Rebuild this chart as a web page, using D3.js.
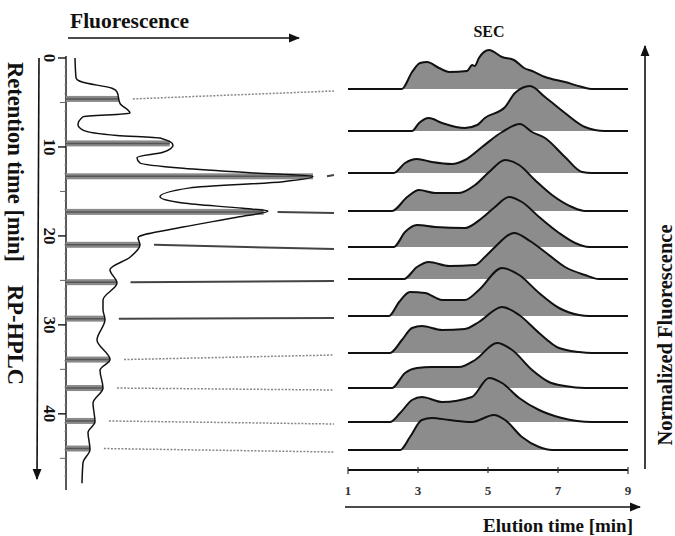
<!DOCTYPE html>
<html>
<head>
<meta charset="utf-8">
<script src="https://cdn.jsdelivr.net/npm/d3@7"></script>
<style>
  body { margin: 0; background: #fff; }
  text { font-family: "Liberation Serif", "DejaVu Serif", serif; font-weight: bold; fill: #111; }
</style>
</head>
<body>
<svg id="chart"></svg>
<script>
// RP-HPLC trace: retention time [min] vs fluorescence (a.u.)
const hplcTime = [0, 2.2, 2.7, 3.4, 3.8, 5.1, 6.2, 6.6, 7.5, 8.1, 8.7, 9.0, 9.8, 10.6, 11.2, 11.8, 12.4, 12.9, 13.3, 13.9,
  14.6, 15.6, 16.3, 16.9, 17.2, 17.9, 19.0, 20.2, 21.0, 22.4, 23.8, 25.3, 27.2, 28.3, 29.4, 31.7, 33.9, 35.1, 37.1,
  38.8, 40.9, 42.1, 44.0, 45.5, 47.8];
const hplcSignal = [3.6, 4, 6.4, 18.4, 20.4, 21.6, 25.6, 6.8, 4.8, 6.8, 20.4, 37.6, 42.8, 38.8, 28.4, 29.6, 46.8, 73.6, 98.8, 86.8,
  49.6, 37.6, 46.8, 70.8, 80.8, 68.4, 46.8, 28.8, 29.6, 25.6, 17.6, 20.4, 14.8, 14.8, 15.6, 12.4, 17.6, 13.6, 14.8,
  10.8, 11.6, 8.8, 9.6, 6.8, 6.4];

// collected fractions and how each is linked to its SEC run
const fractionTimes = [4.6, 9.6, 13.3, 17.3, 21.0, 25.2, 29.3, 33.9, 37.1, 40.8, 43.9];
const linkStyles = ['dotted', 'none', 'dashed', 'solid', 'solid', 'solid', 'solid', 'dotted', 'dotted', 'dotted', 'dotted'];

// SEC runs (stack offset, then [elution time, normalized fluorescence])
const secOffsets = [361, 319, 277, 239, 203, 171, 134, 97, 62, 28, 0];
const secTraces = [
  [[2.54,0],[2.83,17],[3.06,26],[3.26,27],[3.6,21],[3.89,17],[4.4,18],[4.55,24],[4.62,23],[4.74,31],[5.03,39],[5.4,32],[5.74,29],[6.03,21],[6.26,18],[6.63,12],[7.2,7],[7.69,2],[7.97,0]],
  [[2.83,0],[3.03,8],[3.31,13],[3.69,8],[4.34,3],[4.69,6],[4.91,13],[5.49,24],[5.77,38],[6.2,45],[6.63,34],[7.2,18],[7.77,4],[8.34,0]],
  [[2.31,0],[2.63,10],[2.97,14],[3.4,11],[3.97,9],[4.34,13],[4.83,26],[5.4,41],[5.91,49],[6.26,41],[6.63,35],[7.2,16],[7.69,1],[7.97,0]],
  [[2.26,0],[2.69,14],[3.03,21],[3.49,18],[4.17,18],[4.63,26],[5.03,39],[5.49,51],[5.89,46],[6.34,31],[6.83,16],[7.4,4],[7.77,0]],
  [[2.31,0],[2.63,15],[2.97,22],[3.49,20],[4.34,19],[4.83,29],[5.2,40],[5.6,50],[5.97,45],[6.46,30],[7.03,14],[7.49,4],[7.89,0]],
  [[2.6,0],[2.97,12],[3.31,17],[3.89,13],[4.63,14],[4.91,22],[5.2,32],[5.74,46],[6.2,38],[6.63,27],[7.2,12],[7.77,4],[8.17,0]],
  [[2.17,0],[2.46,14],[2.77,24],[3.2,23],[3.69,16],[4.34,16],[4.74,26],[5.4,48],[5.89,41],[6.46,23],[7.03,8],[7.6,1],[7.89,0]],
  [[2.2,0],[2.54,13],[2.83,25],[3.11,27],[3.69,23],[4.34,24],[4.74,31],[5.4,46],[5.89,38],[6.46,20],[7.03,5],[7.6,1],[7.97,0]],
  [[2.26,0],[2.63,15],[2.97,20],[3.4,21],[4.17,21],[4.63,28],[5.26,45],[5.69,38],[6.26,18],[6.74,6],[7.2,2],[7.77,0]],
  [[2.2,0],[2.49,9],[2.83,22],[3.11,25],[3.69,20],[4.54,25],[5.03,44],[5.4,39],[5.89,24],[6.46,12],[7.11,4],[7.97,0]],
  [[2.49,0],[2.77,13],[3.11,30],[3.4,32],[3.89,30],[4.54,28],[5.17,35],[5.49,30],[5.97,13],[6.46,3],[6.83,0]]
];

const rtTicks = [0, 10, 20, 30, 40];
const elutionTicks = [1, 3, 5, 7, 9];

const width = 675, height = 536;
const svg = d3.select('#chart').attr('width', width).attr('height', height);

const defs = svg.append('defs');
defs.append('marker')
    .attr('id', 'arrow')
    .attr('viewBox', '0 0 10 10')
    .attr('refX', 9).attr('refY', 5)
    .attr('markerWidth', 7).attr('markerHeight', 7)
    .attr('orient', 'auto')
  .append('path')
    .attr('d', 'M0,1 L10,5 L0,9 Z')
    .attr('fill', '#111');

// ---------- left panel: RP-HPLC ----------
const yRT = d3.scaleLinear().domain([0, 48]).range([58, 485]);
const xF = d3.scaleLinear().domain([0, 100]).range([66, 316]);
const signalAt = d3.scaleLinear().domain(hplcTime).range(hplcSignal);

const left = svg.append('g');

// axis line with ticks to the left
left.append('line')
    .attr('x1', xF(0)).attr('x2', xF(0))
    .attr('y1', yRT(0) - 2).attr('y2', 490)
    .attr('stroke', '#222').attr('stroke-width', 1.5);

left.selectAll('.minor')
    .data(d3.range(0, 48, 1))
    .join('line')
    .attr('x1', xF(0) - 2).attr('x2', xF(0))
    .attr('y1', d => yRT(d)).attr('y2', d => yRT(d))
    .attr('stroke', '#999').attr('stroke-width', 0.8);

left.selectAll('.tick5')
    .data(d3.range(5, 48, 10))
    .join('line')
    .attr('x1', xF(0) - 6).attr('x2', xF(0))
    .attr('y1', d => yRT(d)).attr('y2', d => yRT(d))
    .attr('stroke', '#666').attr('stroke-width', 1);

left.selectAll('.tick10')
    .data(rtTicks)
    .join('line')
    .attr('x1', xF(0) - 8).attr('x2', xF(0))
    .attr('y1', d => yRT(d)).attr('y2', d => yRT(d))
    .attr('stroke', '#222').attr('stroke-width', 1.5);

left.selectAll('.rtlabel')
    .data(rtTicks)
    .join('text')
    .attr('transform', d => `translate(44,${yRT(d)}) rotate(90)`)
    .attr('text-anchor', 'middle')
    .style('font-size', '17px')
    .text(d => d);

// fraction bars
const bars = left.selectAll('.fraction')
    .data(fractionTimes)
    .join('g');
bars.append('rect')
    .attr('x', xF(0))
    .attr('y', d => yRT(d) - 3)
    .attr('width', d => xF(signalAt(d)) - xF(0))
    .attr('height', 6)
    .attr('fill', '#8a8a8a');
bars.append('line')
    .attr('x1', xF(0)).attr('x2', d => xF(signalAt(d)))
    .attr('y1', d => yRT(d)).attr('y2', d => yRT(d))
    .attr('stroke', '#555').attr('stroke-width', 1.5);

// trace
const hplc = hplcTime.map((t, i) => ({t: t, v: hplcSignal[i]}));
left.append('path')
    .datum(hplc)
    .attr('fill', 'none')
    .attr('stroke', '#111')
    .attr('stroke-width', 1.5)
    .attr('d', d3.line().x(d => xF(d.v)).y(d => yRT(d.t)).curve(d3.curveMonotoneY));

// ---------- right panel: SEC ----------
const xE = d3.scaleLinear().domain([1, 9]).range([348, 628]);
const ySec = d3.scaleLinear().domain([0, 361]).range([450, 89]);

// links between fractions and SEC runs
const dashFor = {dotted: '2,1.5', dashed: '8,5', solid: null};
svg.append('g').selectAll('line')
    .data(fractionTimes.map((t, i) => ({t: t, style: linkStyles[i], off: secOffsets[i]}))
      .filter(d => d.style !== 'none'))
    .join('line')
    .attr('x1', d => xF(signalAt(d.t)) + 14)
    .attr('x2', 334)
    .attr('y1', d => yRT(d.t))
    .attr('y2', d => ySec(d.off) + 2)
    .attr('stroke', d => d.style === 'dotted' ? '#888' : '#444')
    .attr('stroke-width', d => d.style === 'dotted' ? 1.5 : 2)
    .attr('stroke-dasharray', d => dashFor[d.style]);

const ridge = svg.append('g');
secTraces.forEach((pts, i) => {
  const base = secOffsets[i];
  const g = ridge.append('g');
  g.append('path')
      .datum(pts)
      .attr('fill', '#8c8c8c')
      .attr('d', d3.area()
        .x(d => xE(d[0]))
        .y0(ySec(base))
        .y1(d => ySec(base + d[1]))
        .curve(d3.curveMonotoneX));
  const full = [[1, 0]].concat(pts, [[9, 0]]);
  g.append('path')
      .datum(full)
      .attr('fill', 'none')
      .attr('stroke', '#111')
      .attr('stroke-width', 2)
      .attr('stroke-linejoin', 'round')
      .attr('d', d3.line()
        .x(d => xE(d[0]))
        .y(d => ySec(base + d[1]))
        .curve(d3.curveMonotoneX));
});

// elution time axis
const xAxis = svg.append('g').attr('transform', 'translate(0,470)');
xAxis.append('line')
    .attr('x1', xE(1)).attr('x2', xE(9))
    .attr('stroke', '#111').attr('stroke-width', 2);
xAxis.selectAll('.etick')
    .data(elutionTicks)
    .join('line')
    .attr('x1', d => xE(d)).attr('x2', d => xE(d))
    .attr('y1', -3).attr('y2', d => (d === 1 || d === 9) ? 4 : 3)
    .attr('stroke', '#333').attr('stroke-width', 1.2);
xAxis.selectAll('.elabel')
    .data(elutionTicks)
    .join('text')
    .attr('x', d => xE(d))
    .attr('y', 25)
    .attr('text-anchor', 'middle')
    .style('font-size', '13px')
    .style('fill', '#333')
    .text(d => d);

// ---------- arrows and titles ----------
const arrows = svg.append('g')
    .attr('stroke', '#111').attr('stroke-width', 1.6)
    .attr('marker-end', 'url(#arrow)');
arrows.append('line').attr('x1', 68).attr('y1', 38).attr('x2', 299).attr('y2', 38);
arrows.append('line').attr('x1', 39).attr('y1', 58).attr('x2', 37).attr('y2', 479);
arrows.append('line').attr('x1', 345).attr('y1', 507).attr('x2', 640).attr('y2', 507);
arrows.append('line').attr('x1', 645).attr('y1', 469).attr('x2', 645).attr('y2', 46);

svg.append('text').attr('x', 70).attr('y', 28).style('font-size', '21.5px').text('Fluorescence');
svg.append('text').attr('x', 489).attr('y', 37).attr('text-anchor', 'middle').style('font-size', '16px').text('SEC');
svg.append('text').attr('x', 633).attr('y', 532).attr('text-anchor', 'end').style('font-size', '19px').text('Elution time [min]');
svg.append('text')
    .attr('transform', 'translate(8,62) rotate(90)')
    .style('font-size', '22.5px')
    .text('Retention time [min]');
svg.append('text')
    .attr('transform', 'translate(8,285) rotate(90)')
    .style('font-size', '22.5px')
    .text('RP-HPLC');
svg.append('text')
    .attr('transform', 'translate(672,335) rotate(-90)')
    .attr('text-anchor', 'middle')
    .style('font-size', '20.5px')
    .text('Normalized Fluorescence');
</script>
</body>
</html>
